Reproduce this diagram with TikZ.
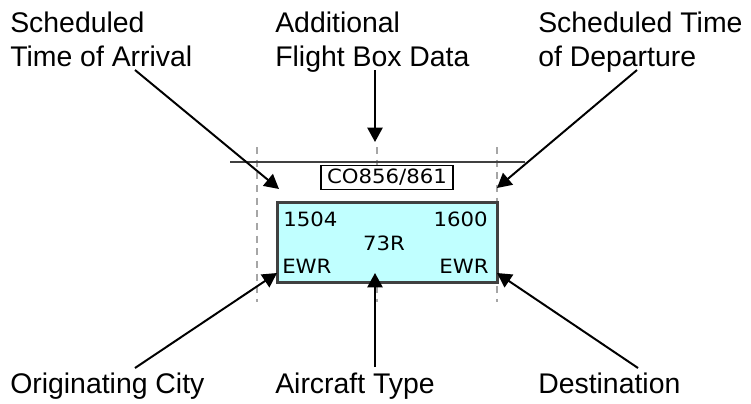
\documentclass[tikz,border=0pt]{standalone}
\usepackage{fontspec}
\setmainfont{Liberation Sans}
\newfontfamily\boxfont[FakeStretch=1.08]{DejaVu Sans}
\usepackage{tikz}
\usetikzlibrary{positioning,arrows.meta}

\definecolor{boxcyan}{HTML}{C0FFFF}
\definecolor{rulegray}{HTML}{404040}

\tikzset{
    callout/.style={font=\fontsize{20.2}{24.1}\selectfont, align=left, inner sep=0pt},
    pointer/.style={line width=1.4pt, -{Triangle[length=0.36cm, width=0.38cm]}},
    guide/.style={draw=gray!70, line width=0.9pt, dash pattern=on 5pt off 4pt},
    boxtext/.style={font=\boxfont\fontsize{14}{16}\selectfont, inner sep=0pt}
}

\begin{document}
\begin{tikzpicture}[x=0.025cm, y=-0.025cm]
    \useasboundingbox (0,0) rectangle (751,403);

    % Guide lines (behind)
    \draw[guide] (257,147) -- (257,302);
    \draw[guide] (377,147) -- (377,166);
    \draw[guide] (377,286) -- (377,302);
    \draw[guide] (497,147) -- (497,302);
    \draw[line width=2pt, draw=rulegray] (230,162) -- (525,162);

    % Flight box
    \node[draw=rulegray, line width=2.2pt, fill=boxcyan, minimum width=5.5cm, minimum height=2cm, inner sep=0pt] (fbox) at (387.5,242.5) {};
    \node[draw, fill=white, line width=0.8pt, boxtext, minimum width=3.3cm, minimum height=0.62cm] (flight) at (387,177.5) {CO856/861};
    \node[boxtext, anchor=base west] (sta) at (283,226) {1504};
    \node[boxtext, anchor=base east] (std) at (488,226) {1600};
    \node[boxtext, anchor=base] (actype) at (384,250) {73R};
    \node[boxtext, anchor=base west] (orig) at (282,273) {EWR};
    \node[boxtext, anchor=base east] (dest) at (489,273) {EWR};

    % Labels (Top)
    \node[callout, anchor=north west] (lblSta) at (10,12) {Scheduled\\Time of Arrival};
    \node[callout, anchor=north west] (lblData) at (275,12) {Additional\\Flight Box Data};
    \node[callout, anchor=north west] (lblStd) at (538,12) {Scheduled Time\\of Departure};

    % Labels (Bottom)
    \node[callout, anchor=base west] (lblOrig) at (10,393) {Originating City};
    \node[callout, anchor=base west] (lblType) at (275,393) {Aircraft Type};
    \node[callout, anchor=base west] (lblDest) at (538,393) {Destination};

    % Arrow ends
    \coordinate (staFoot) at (135,70);
    \coordinate (dataFoot) at (375,70);
    \coordinate (stdFoot) at (637,70);
    \coordinate (origFoot) at (135,368);
    \coordinate (typeFoot) at (375,367);
    \coordinate (destFoot) at (638,368);
    \coordinate (staTip) at (279,189);
    \coordinate (dataTip) at (375,142);
    \coordinate (stdTip) at (497,188);
    \coordinate (origTip) at (277,273);
    \coordinate (typeTip) at (375,273);
    \coordinate (destTip) at (497,273);

    \draw[pointer] (staFoot) -- (staTip);
    \draw[pointer] (dataFoot) -- (dataTip);
    \draw[pointer] (stdFoot) -- (stdTip);
    \draw[pointer] (origFoot) -- (origTip);
    \draw[pointer] (typeFoot) -- (typeTip);
    \draw[pointer] (destFoot) -- (destTip);
\end{tikzpicture}
\end{document}
